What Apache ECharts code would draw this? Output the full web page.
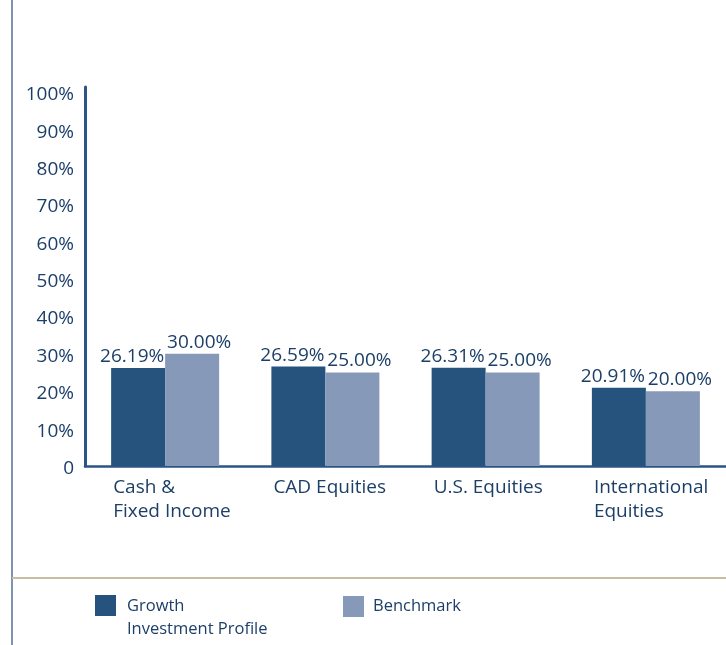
<!DOCTYPE html>
<html>
<head>
<meta charset="utf-8">
<script src="https://cdn.jsdelivr.net/npm/echarts@6/dist/echarts.min.js"></script>
<style>
  html, body { margin: 0; padding: 0; background: #ffffff; }
  #chart { width: 726px; height: 645px; }
</style>
</head>
<body>
<div id="chart"></div>
<script>
// Asset mix: profile allocation against its benchmark
const categories = ['Cash &\nFixed Income', 'CAD Equities', 'U.S. Equities', 'International\nEquities'];
const profileName = 'Growth\nInvestment Profile';
const benchmarkName = 'Benchmark';
const profileValues = [26.19, 26.59, 26.31, 20.91];
const benchmarkValues = [30.00, 25.00, 25.00, 20.00];
const yTicks = [0, 10, 20, 30, 40, 50, 60, 70, 80, 90, 100];

const NAVY = '#1c3f68';
const DARK = '#26537e';
const LIGHT = '#8699b8';
const FONT = '"Open Sans", "Noto Sans", sans-serif';

const chart = echarts.init(document.getElementById('chart'), null, { renderer: 'canvas' });

const labelStyle = (dx) => ({
  show: true,
  position: 'top',
  distance: 2,
  offset: [dx, 0],
  color: NAVY,
  fontFamily: FONT,
  fontSize: 19,
  formatter: (p) => p.value.toFixed(2) + '%'
});

// square swatch sitting at the top of a taller box, so a two-line name hangs below its first line
const tallSwatch = 'path://M0,0H21V21H0Z M0,46H21';

chart.setOption({
  animation: false,
  backgroundColor: '#ffffff',
  grid: { left: 85, top: 87, width: 646, bottom: 179, containLabel: false },
  xAxis: {
    type: 'category',
    data: categories,
    axisLine: { show: true, lineStyle: { color: '#2a5585', width: 2.5 } },
    axisTick: { show: false },
    axisLabel: {
      margin: 10,
      interval: 0,
      formatter: (v) => v.split('\n').map((s) => '{t|' + s + '}').join('\n'),
      rich: {
        t: { width: 104, align: 'left', fontSize: 19, lineHeight: 24, color: NAVY, fontFamily: FONT }
      }
    }
  },
  yAxis: {
    type: 'value',
    min: yTicks[0],
    max: 101.4,
    interval: 10,
    axisLine: { show: true, lineStyle: { color: '#2a5585', width: 3 } },
    axisTick: { show: false },
    splitLine: { show: false },
    axisLabel: {
      margin: 11,
      showMaxLabel: false,
      formatter: (v) => (yTicks.indexOf(v) < 0 ? '' : '{v|' + (v === 0 ? '0' : v + '%') + '}'),
      rich: {
        v: { padding: [5, 0, 0, 0], color: NAVY, fontFamily: FONT, fontSize: 19 }
      }
    }
  },
  legend: [
    {
      left: 90, top: 590,
      itemWidth: 21, itemHeight: 46,
      icon: tallSwatch,
      data: [{ name: profileName }],
      textStyle: {
        color: NAVY, fontFamily: FONT, fontSize: 16.5, lineHeight: 23,
        padding: [0, 0, 0, 6]
      }
    },
    {
      left: 338, top: 590,
      itemWidth: 21, itemHeight: 21,
      icon: 'rect',
      data: [{ name: benchmarkName }],
      textStyle: {
        color: NAVY, fontFamily: FONT, fontSize: 16.5, lineHeight: 23,
        padding: [0, 0, 0, 4]
      }
    }
  ],
  series: [
    {
      name: profileName,
      type: 'bar',
      data: profileValues,
      barWidth: 54,
      barGap: '0%',
      itemStyle: { color: DARK },
      label: labelStyle(-6)
    },
    {
      name: benchmarkName,
      type: 'bar',
      data: benchmarkValues,
      barWidth: 54,
      barGap: '0%',
      itemStyle: { color: LIGHT },
      label: labelStyle(7)
    }
  ],
  graphic: [
    // page frame: left rule and the divider above the legend
    { type: 'line', shape: { x1: 12, y1: 0, x2: 12, y2: 645 }, style: { stroke: '#7f94b0', lineWidth: 2 }, silent: true },
    { type: 'line', shape: { x1: 12, y1: 578, x2: 726, y2: 578 }, style: { stroke: '#c9bea3', lineWidth: 2 }, silent: true }
  ]
});
</script>
</body>
</html>
